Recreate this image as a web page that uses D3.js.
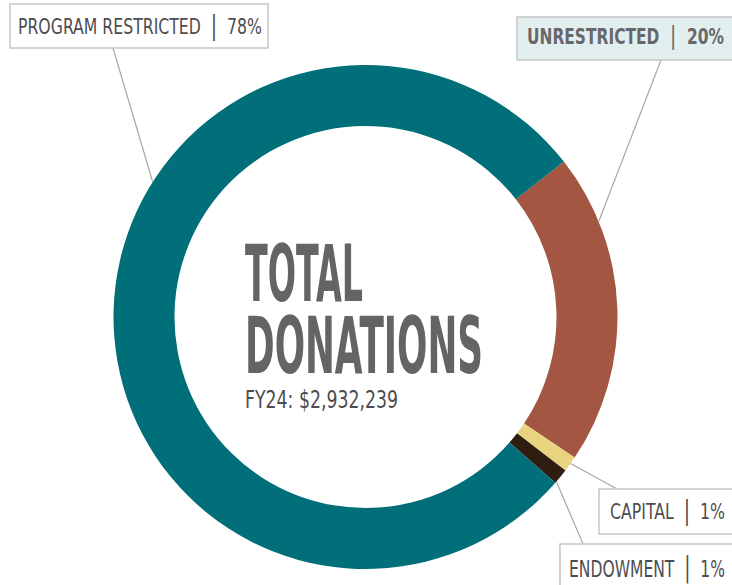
<!DOCTYPE html>
<html>
<head>
<meta charset="utf-8">
<script src="https://cdn.jsdelivr.net/npm/d3@7"></script>
<style>
  body { margin: 0; background: #fff; }
  svg { display: block; }
</style>
</head>
<body>
<div class="chart"></div>
<script>
// data
const categories = ['UNRESTRICTED', 'CAPITAL', 'ENDOWMENT', 'PROGRAM RESTRICTED'];
const percents = [20, 1, 1, 78];
const colors = ['#a35642', '#e8d47e', '#2f1d12', '#006f79'];
const titleLines = ['TOTAL', 'DONATIONS'];
const subtitle = 'FY24: $2,932,239';

const width = 732, height = 585;
const cx = 365.5, cy = 317;
const outerR = 252, innerR = 191;

// label layout: box, text, where the leader touches the arc (fraction along slice)
const labelLayout = [
  { box: [517, 17, 230, 43], tx: 527, ty: 44, tw: 197, fs: 21, bold: true, fill: '#e3efef', color: '#67686a', t: 0.22, end: [661, 60] },
  { box: [599, 489, 150, 45], tx: 610, ty: 519, tw: 115, fs: 22, bold: false, fill: '#fff', color: '#4d4d4f', t: 0.45, end: [617, 489] },
  { box: [560, 544, 190, 50], tx: 569, ty: 577, tw: 156, fs: 23, bold: false, fill: '#fff', color: '#4d4d4f', t: 0.9, end: [583, 544] },
  { box: [10, 4, 258, 44], tx: 18, ty: 34, tw: 244, fs: 22, bold: false, fill: '#fff', color: '#4d4d4f', t: 0.61, end: [113, 48] }
];
const font = '"Liberation Sans Narrow", "DejaVu Sans Condensed", sans-serif';

const svg = d3.select('.chart')
  .append('svg')
  .attr('width', width)
  .attr('height', height);

const startA = 0.906;
const pie = d3.pie().sort(null).value(d => d).startAngle(startA).endAngle(startA + 2 * Math.PI);
const arcs = pie(percents);
const arc = d3.arc().innerRadius(innerR).outerRadius(outerR);

const g = svg.append('g').attr('transform', `translate(${cx},${cy})`);
g.selectAll('path')
  .data(arcs)
  .join('path')
  .attr('d', arc)
  .attr('fill', (d, i) => colors[i]);

// leader lines, from a point on the outer edge of each slice to its box
const touch = (d, i) => d.startAngle + (d.endAngle - d.startAngle) * labelLayout[i].t;
svg.append('g')
  .selectAll('line')
  .data(arcs)
  .join('line')
  .attr('x1', (d, i) => cx + Math.sin(touch(d, i)) * outerR)
  .attr('y1', (d, i) => cy - Math.cos(touch(d, i)) * outerR)
  .attr('x2', (d, i) => labelLayout[i].end[0])
  .attr('y2', (d, i) => labelLayout[i].end[1])
  .attr('stroke', '#a8a8a8')
  .attr('stroke-width', 1.2);

// label boxes
const labels = svg.append('g')
  .selectAll('g')
  .data(categories)
  .join('g');

labels.append('rect')
  .attr('x', (d, i) => labelLayout[i].box[0])
  .attr('y', (d, i) => labelLayout[i].box[1])
  .attr('width', (d, i) => labelLayout[i].box[2])
  .attr('height', (d, i) => labelLayout[i].box[3])
  .attr('fill', (d, i) => labelLayout[i].fill)
  .attr('stroke', '#c6c6c6')
  .attr('stroke-width', 1.5);

const lbl = labels.append('text')
  .attr('x', (d, i) => labelLayout[i].tx)
  .attr('y', (d, i) => labelLayout[i].ty)
  .attr('textLength', (d, i) => labelLayout[i].tw)
  .attr('lengthAdjust', 'spacingAndGlyphs')
  .attr('font-family', font)
  .attr('font-size', (d, i) => labelLayout[i].fs)
  .attr('font-weight', (d, i) => labelLayout[i].bold ? 'bold' : 'normal')
  .attr('fill', (d, i) => labelLayout[i].color)
  .attr('xml:space', 'preserve');
lbl.append('tspan').text(d => d + '\u00a0\u00a0');
lbl.append('tspan')
  .attr('font-weight', 'normal')
  .attr('font-size', (d, i) => labelLayout[i].fs * 1.2)
  .text('|');
lbl.append('tspan').text((d, i) => `\u00a0\u00a0${percents[categories.indexOf(d)]}%`);

// center title
const titleW = [118, 238];
const titleY = [301, 373];
svg.append('g')
  .selectAll('text')
  .data(titleLines)
  .join('text')
  .attr('transform', (d, i) => `translate(245,${titleY[i]}) scale(1,1.8)`)
  .attr('textLength', (d, i) => titleW[i])
  .attr('lengthAdjust', 'spacingAndGlyphs')
  .attr('font-family', font)
  .attr('font-weight', 'bold')
  .attr('font-size', 44)
  .attr('fill', '#636466')
  .text(d => d);

svg.append('text')
  .attr('x', 245)
  .attr('y', 408)
  .attr('textLength', 153)
  .attr('lengthAdjust', 'spacingAndGlyphs')
  .attr('font-family', font)
  .attr('font-size', 24)
  .attr('fill', '#4d4d4f')
  .text(subtitle);
</script>
</body>
</html>
